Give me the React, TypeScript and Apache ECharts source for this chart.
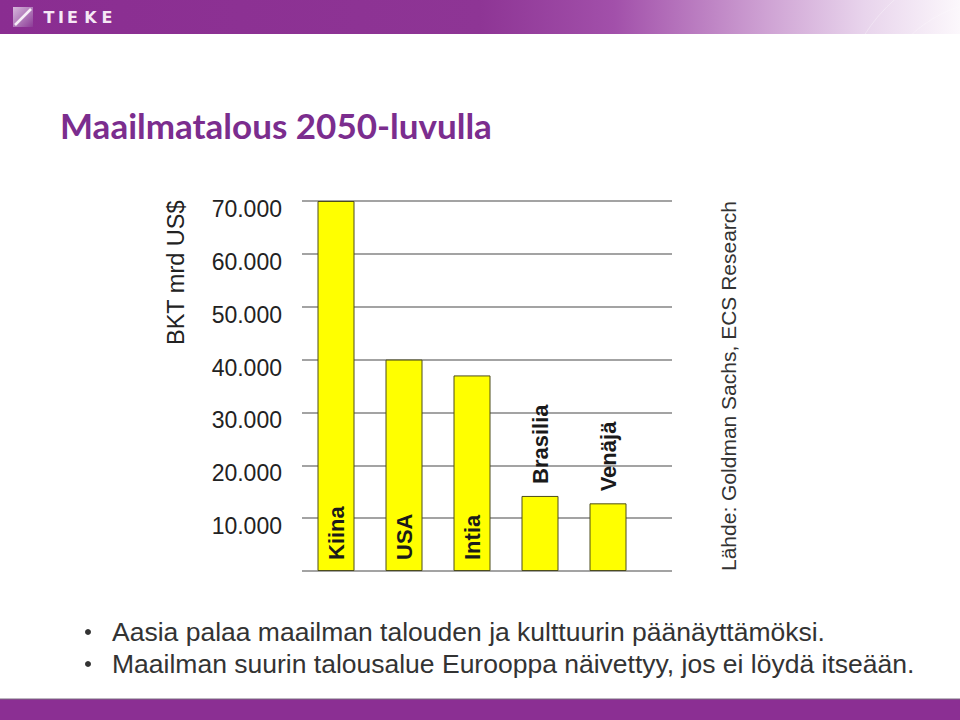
import React, { useEffect, useRef } from "react";
import * as echarts from "echarts";

const categories = ["Kiina", "USA", "Intia", "Brasilia", "Venäjä"];
const gdpValues = [70000, 40000, 37000, 14200, 12800];
const yTicks = [0, 10000, 20000, 30000, 40000, 50000, 60000, 70000];
const titleText = "Maailmatalous 2050-luvulla";
const yAxisTitle = "BKT mrd US$";
const sourceText = "Lähde: Goldman Sachs, ECS Research";
const bullets = [
  "Aasia palaa maailman talouden ja kulttuurin päänäyttämöksi.",
  "Maailman suurin talousalue Eurooppa näivettyy, jos ei löydä itseään.",
];
const logoLetters = ["T", "I", "E", "K", "E"];

const fmt = (v: number) =>
  v === 0 ? "" : String(v).replace(/\B(?=(\d{3})+(?!\d))/g, ".");

export default function App() {
  const ref = useRef<HTMLDivElement>(null);
  useEffect(() => {
    if (!ref.current) return;
    const chart = echarts.init(ref.current, undefined, { renderer: "svg" });
    const yMax = yTicks[yTicks.length - 1];
    const yStep = yTicks[1] - yTicks[0];
    const font = "Liberation Sans, Arial, sans-serif";
    const logoX = [49, 61, 72.5, 90.5, 107];

    const graphics: any[] = [
      {
        type: "rect",
        shape: { x: 0, y: 0, width: 960, height: 34 },
        style: {
          fill: new echarts.graphic.LinearGradient(0, 0, 1, 0, [
            { offset: 0, color: "#8a2d91" },
            { offset: 0.5, color: "#8e3595" },
            { offset: 0.64, color: "#a250aa" },
            { offset: 0.8, color: "#cfa3d4" },
            { offset: 0.9, color: "#e8d4ec" },
            { offset: 1, color: "#fcf8fc" },
          ]),
        },
        silent: true,
      },
      {
        type: "arc",
        shape: { cx: 1000, cy: 120, r: 160, startAngle: Math.PI * 1.05, endAngle: Math.PI * 1.45 },
        style: { stroke: "rgba(255,255,255,0.3)", lineWidth: 1, fill: "none" },
      },
      {
        type: "arc",
        shape: { cx: 1000, cy: 130, r: 130, startAngle: Math.PI * 1.05, endAngle: Math.PI * 1.45 },
        style: { stroke: "rgba(255,255,255,0.25)", lineWidth: 1, fill: "none" },
      },
      {
        type: "rect",
        shape: { x: 13, y: 7, width: 20, height: 20 },
        style: {
          fill: new echarts.graphic.LinearGradient(0, 0, 1, 1, [
            { offset: 0, color: "#d7b8dc" },
            { offset: 0.5, color: "#b27dbb" },
            { offset: 1, color: "#8c3a96" },
          ]),
        },
      },
      {
        type: "line",
        shape: { x1: 15, y1: 25, x2: 31, y2: 9 },
        style: { stroke: "#f6eef7", lineWidth: 2.5 },
      },
      ...logoLetters.map((l, i) => ({
        type: "text",
        x: logoX[i],
        y: 17.5,
        style: {
          text: l,
          fill: "#f5e8f5",
          font: `bold 16px "DejaVu Sans", sans-serif`,
          verticalAlign: "middle",
          align: "center",
        },
      })),
      {
        type: "rect",
        shape: { x: 0, y: 699, width: 960, height: 21 },
        style: { fill: "#8b2f93" },
      },
      {
        type: "line",
        shape: { x1: 0, y1: 699, x2: 960, y2: 699 },
        style: { stroke: "#7a6a80", lineWidth: 1 },
      },
      {
        type: "text",
        x: 60,
        y: 125,
        style: {
          text: titleText,
          fill: "#7b2d8e",
          font: `bold 35px Lato, "Open Sans", sans-serif`,
          verticalAlign: "middle",
        },
      },
      {
        type: "text",
        x: 176,
        y: 345,
        rotation: Math.PI / 2,
        style: {
          text: yAxisTitle,
          fill: "#222",
          font: `23.5px ${font}`,
          align: "left",
          verticalAlign: "middle",
        },
      },
      {
        type: "text",
        x: 728,
        y: 571,
        rotation: Math.PI / 2,
        style: {
          text: sourceText,
          fill: "#333",
          font: `21px ${font}`,
          align: "left",
          verticalAlign: "middle",
        },
      },
      ...bullets.flatMap((b, i) => [
        {
          type: "circle",
          shape: { cx: 88, cy: 632 + i * 32, r: 3 },
          style: { fill: "#333" },
        },
        {
          type: "text",
          x: 112,
          y: 632 + i * 32,
          style: {
            text: b,
            fill: "#333",
            font: `26.5px ${font}`,
            verticalAlign: "middle",
          },
        },
      ]),
    ];

    chart.setOption({
      animation: false,
      backgroundColor: "#ffffff",
      grid: [
        { left: 302, width: 370, top: 201, bottom: 149 },
        { left: 302, width: 340, top: 201, bottom: 149 },
      ],
      xAxis: [
        {
          type: "category",
          gridIndex: 0,
          data: categories,
          show: false,
        },
        {
          type: "category",
          gridIndex: 1,
          data: categories,
          axisLine: { show: false },
          axisTick: { show: false },
          axisLabel: { show: false },
        },
      ],
      yAxis: [
        {
          type: "value",
          gridIndex: 0,
          min: 0,
          max: yMax,
          interval: yStep,
          axisLine: { show: false },
          axisTick: { show: false },
          splitLine: { lineStyle: { color: "#858585", width: 1.5 } },
          axisLabel: {
            formatter: fmt,
            color: "#222",
            fontSize: 23,
            fontFamily: font,
            margin: 20,
            verticalAlign: "top",
            lineHeight: 16,
          },
        },
        {
          type: "value",
          gridIndex: 1,
          min: 0,
          max: yMax,
          interval: yStep,
          show: false,
          splitLine: { show: false },
        },
      ],
      series: [
        {
          type: "bar",
          xAxisIndex: 1,
          yAxisIndex: 1,
          barWidth: 37,
          data: gdpValues.map((v) => {
            const inside = v > yMax / 3;
            return {
              value: v,
              label: {
                show: true,
                position: inside ? "insideBottom" : "top",
                distance: inside ? 11 : 12,
                rotate: 90,
                align: "left",
                verticalAlign: "middle",
              },
            };
          }),
          itemStyle: { color: "#ffff00", borderColor: "#4d4d1a", borderWidth: 1 },
          label: {
            formatter: (p: any) => categories[p.dataIndex],
            color: "#1a1a1a",
            fontSize: 22,
            fontWeight: "bold",
            fontFamily: font,
          },
        },
      ],
      graphic: graphics,
    });
    return () => chart.dispose();
  }, []);

  return (
    <div
      ref={ref}
      style={{ position: "absolute", left: 0, top: 0, width: 960, height: 720 }}
    />
  );
}
